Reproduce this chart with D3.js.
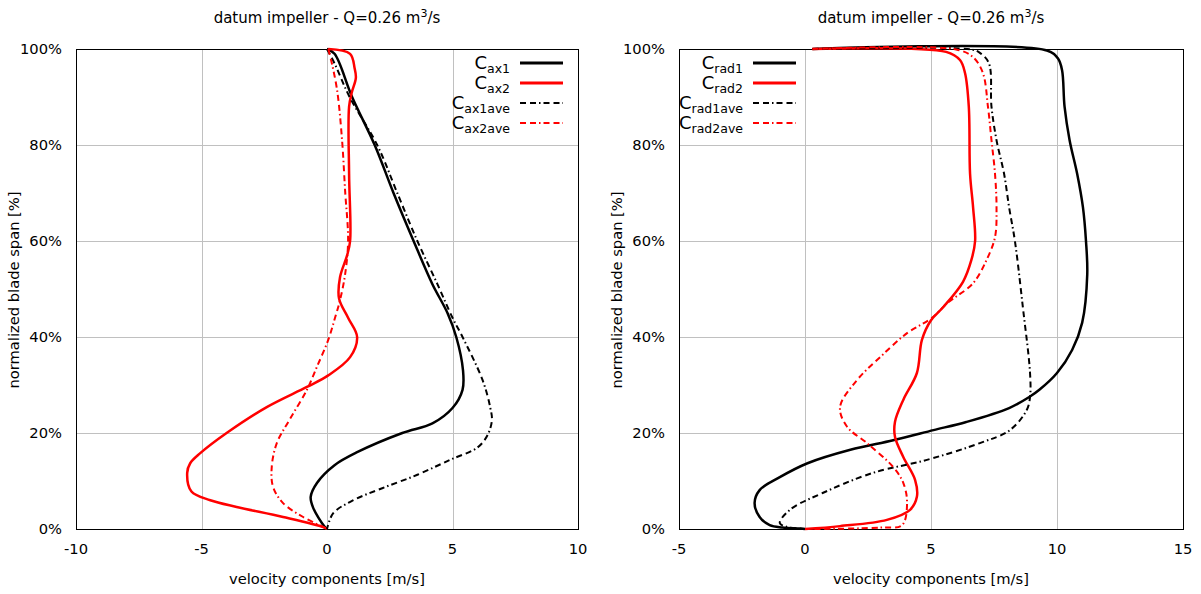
<!DOCTYPE html>
<html>
<head>
<meta charset="utf-8">
<title>datum impeller</title>
<script src="https://d3js.org/d3.v7.min.js"></script>
<style>
  body { margin: 0; background: #fff; }
  text { font-family: "DejaVu Sans", Verdana, sans-serif; font-size: 14.7px; fill: #000; }
</style>
</head>
<body>
<script>
// values: [velocity m/s, span %]
var spanTicks = [0, 20, 40, 60, 80, 100];
var axTicks = [-10, -5, 0, 5, 10];
var radTicks = [-5, 0, 5, 10, 15];

var cax1 = [[0,100],[0.3,99],[1.0,90],[1.9,80],[2.65,70],[3.45,60],[4.2,51],[4.8,45],[5.15,40],[5.42,33],[5.4,29],[5.0,25.2],[4.2,22],[3.0,20],[1.2,16],[0.3,13.3],[-0.4,9.6],[-0.65,6.7],[-0.55,4.4],[-0.1,0.5],[0,0]];
var cax2 = [[0.05,100],[0.92,99],[1.1,96],[1.15,94],[0.99,91],[0.88,88],[0.88,74],[0.92,60],[0.8,57],[0.52,52.5],[0.48,48],[0.84,44],[1.2,40],[0.92,35.8],[0.05,32],[-0.8,29.6],[-2.4,25.4],[-4.0,20],[-5.05,15.8],[-5.45,13.7],[-5.57,11.7],[-5.4,7.8],[-4.65,6],[-3.6,4.6],[-1.75,2.5],[-0.15,0.4],[0,0]];
var cax1ave = [[0,100],[0.3,97],[0.9,90],[2.0,80],[2.8,70],[3.6,60],[4.4,51],[5.0,44],[5.4,40],[6.2,31],[6.5,25.4],[6.57,22.7],[6.4,19.6],[6.0,17],[4.9,14.4],[3.6,11.3],[2.2,8.5],[1.05,6],[0.25,3.3],[0,0]];
var cax2ave = [[0.05,100],[0.15,98],[0.4,91.5],[0.6,81],[0.72,70.6],[0.84,60],[0.72,53],[0.52,47.7],[0.32,44],[0.05,39.4],[-0.4,33.8],[-0.8,29],[-1.5,22.7],[-2.0,17.9],[-2.2,13],[-2.15,8.8],[-1.75,5.4],[-0.95,2.5],[-0.15,0.4],[0,0]];

var crad1 = [[0.3,100],[9.6,99.7],[10.04,98],[10.2,95.6],[10.3,88],[10.5,81],[10.8,74],[11.03,67],[11.15,60],[11.2,53],[11.0,43],[10.6,37.3],[10.0,32.5],[9.3,29],[8.9,27.5],[8.1,25.2],[6.4,22.3],[5.1,20.6],[3.5,18.5],[1.8,16.5],[0.1,13.7],[-1.0,10.8],[-1.8,8.1],[-2.0,5.4],[-1.8,2.5],[-1.4,0.8],[-0.9,0.3],[-0.2,0.1],[0,0]];
var crad2 = [[0.28,100],[5.6,99.4],[6.15,97.7],[6.35,95],[6.5,88],[6.55,74],[6.67,67],[6.75,60],[6.6,56],[6.27,51.5],[5.5,46.3],[5.0,43.5],[4.64,39.4],[4.44,32.5],[3.9,26.9],[3.57,22.3],[3.57,19.2],[3.9,15],[4.37,10.2],[4.44,6.7],[4.17,4],[3.25,1.9],[1.39,0.6],[0,0]];
var crad1ave = [[0.3,100],[6.6,99.9],[6.94,99.2],[7.3,97],[7.4,88],[7.6,81],[7.9,74],[8.1,67],[8.33,60],[8.65,46],[8.93,32.5],[8.93,27.5],[8.8,24.8],[8.13,20.6],[6.94,17.9],[4.84,14.4],[2.7,11.7],[0.7,7.5],[-0.6,4],[-1.0,1.25],[-0.7,0.4],[-0.2,0.1],[0,0]];
var crad2ave = [[0.3,100],[6.0,99.9],[6.67,98.3],[7.06,95],[7.26,88],[7.4,81],[7.54,74],[7.6,67],[7.54,60.8],[7.2,56],[6.67,51.2],[5.63,47],[5.04,44],[4.05,40.8],[2.98,35.8],[2.06,31],[1.39,25.4],[1.67,21.3],[2.46,17.9],[3.5,12.9],[3.9,9.6],[4.05,5.4],[3.85,0.8],[3.0,0.3],[0.3,0]];

var width = 1201;
var height = 594;
var plotTop = 49, plotBottom = 529;
var dashPattern = "6,4,6,3,1.5,3";

var svg = d3.select('body')
  .append('svg')
  .attr('width', width)
  .attr('height', height);

function drawPanel(left, right, domain, ticks, series, legendX) {
  var x = d3.scaleLinear().domain(domain).range([left, right]);
  var y = d3.scaleLinear().domain([0, 100]).range([plotBottom, plotTop]);
  var g = svg.append('g');
  var mid = (left + right) / 2;

  // grid
  g.selectAll('.vgrid').data(ticks.slice(1, -1)).enter().append('line')
    .attr('x1', function(d) { return Math.round(x(d)) + 0.5; })
    .attr('x2', function(d) { return Math.round(x(d)) + 0.5; })
    .attr('y1', plotTop).attr('y2', plotBottom)
    .style('stroke', '#c0c0c0');
  g.selectAll('.hgrid').data(spanTicks.slice(1, -1)).enter().append('line')
    .attr('y1', function(d) { return Math.round(y(d)) + 0.5; })
    .attr('y2', function(d) { return Math.round(y(d)) + 0.5; })
    .attr('x1', left).attr('x2', right)
    .style('stroke', '#c0c0c0');

  // frame
  g.append('rect')
    .attr('x', left + 0.5).attr('y', plotTop + 0.5)
    .attr('width', right - left).attr('height', plotBottom - plotTop)
    .style('fill', 'none').style('stroke', '#000');

  // tick labels
  g.selectAll('.xt').data(ticks).enter().append('text')
    .attr('x', function(d) { return x(d); })
    .attr('y', 554)
    .attr('text-anchor', 'middle')
    .text(function(d) { return d; });
  g.selectAll('.yt').data(spanTicks).enter().append('text')
    .attr('x', left - 14)
    .attr('y', function(d) { return y(d); })
    .attr('dy', '0.36em')
    .attr('text-anchor', 'end')
    .text(function(d) { return d + '%'; });

  // axis titles
  g.append('text').attr('x', mid).attr('y', 584).attr('text-anchor', 'middle')
    .text('velocity components [m/s]');
  g.append('text')
    .attr('transform', 'translate(' + (left - 57) + ',290) rotate(-90)')
    .attr('text-anchor', 'middle')
    .text('normalized blade span [%]');
  var t = g.append('text').attr('x', mid).attr('y', 23).attr('text-anchor', 'middle')
    .style('font-size', '15px');
  t.append('tspan').text('datum impeller - Q=0.26 m');
  t.append('tspan').attr('dy', -6).style('font-size', '11px').text('3');
  t.append('tspan').attr('dy', 6).text('/s');

  // curves
  var line = d3.line()
    .x(function(d) { return x(d[0]); })
    .y(function(d) { return y(d[1]); })
    .curve(d3.curveCatmullRom.alpha(0.5));
  series.forEach(function(s) {
    g.append('path')
      .attr('d', line(s.data))
      .style('fill', 'none')
      .style('stroke', s.color)
      .style('stroke-width', s.dashed ? 2 : 2.5)
      .style('stroke-dasharray', s.dashed ? dashPattern : null)
      .style('stroke-linejoin', 'round');
  });

  // legend
  series.forEach(function(s, i) {
    var ly = 63 + i * 20;
    var lt = g.append('text').attr('x', legendX).attr('y', ly + 6).attr('text-anchor', 'end');
    lt.append('tspan').style('font-size', '18px').text('C');
    lt.append('tspan').attr('dy', 4).style('font-size', '12.5px').text(s.sub);
    g.append('line')
      .attr('x1', legendX + 10).attr('x2', legendX + 53)
      .attr('y1', ly).attr('y2', ly)
      .style('stroke', s.color)
      .style('stroke-width', s.dashed ? 2 : 3)
      .style('stroke-dasharray', s.dashed ? dashPattern : null);
  });
}

drawPanel(76, 578, [-10, 10], axTicks, [
  {sub: 'ax1', data: cax1, color: '#000', dashed: false},
  {sub: 'ax2', data: cax2, color: '#f00', dashed: false},
  {sub: 'ax1ave', data: cax1ave, color: '#000', dashed: true},
  {sub: 'ax2ave', data: cax2ave, color: '#f00', dashed: true}
], 510);

drawPanel(679, 1183, [-5, 15], radTicks, [
  {sub: 'rad1', data: crad1, color: '#000', dashed: false},
  {sub: 'rad2', data: crad2, color: '#f00', dashed: false},
  {sub: 'rad1ave', data: crad1ave, color: '#000', dashed: true},
  {sub: 'rad2ave', data: crad2ave, color: '#f00', dashed: true}
], 743);
</script>
</body>
</html>
